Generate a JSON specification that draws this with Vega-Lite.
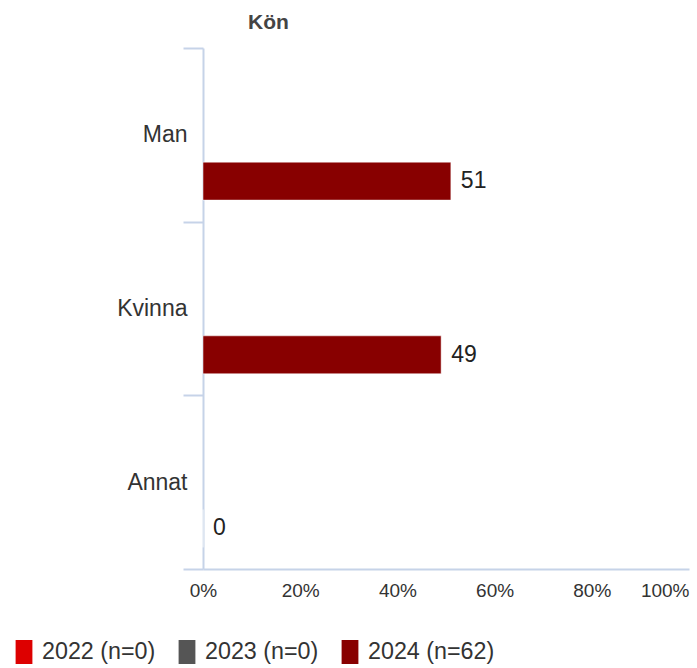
{
  "$schema": "https://vega.github.io/schema/vega-lite/v6.json",
  "autosize": {"type": "none"},
  "width": 486,
  "height": 521,
  "padding": {"left": 203, "top": 48, "right": 8, "bottom": 99},
  "background": "white",
  "config": {
    "font": "Liberation Sans",
    "view": {"stroke": null}
  },
  "title": {
    "text": "Kön",
    "anchor": "start",
    "frame": "group",
    "dx": 45,
    "offset": 4,
    "fontSize": 21,
    "fontWeight": "bold",
    "color": "#444444",
    "font": "Liberation Sans"
  },
  "data": {
    "values": [
      {"kon": "Man", "ar": "2024 (n=62)", "andel": 51},
      {"kon": "Kvinna", "ar": "2024 (n=62)", "andel": 49},
      {"kon": "Annat", "ar": "2024 (n=62)", "andel": 0}
    ]
  },
  "encoding": {
    "y": {
      "field": "kon",
      "type": "nominal",
      "sort": ["Man", "Kvinna", "Annat"],
      "scale": {"domain": ["Man", "Kvinna", "Annat"], "paddingInner": 0, "paddingOuter": 0},
      "axis": {
        "title": null,
        "tickBand": "extent",
        "tickSize": 20,
        "tickColor": "#c6d3e8",
        "tickWidth": 2,
        "domainColor": "#c6d3e8",
        "domainWidth": 2,
        "labelFontSize": 23,
        "labelColor": "#333333",
        "labelPadding": -4
      }
    },
    "yOffset": {
      "field": "ar",
      "type": "nominal",
      "scale": {"domain": ["2022 (n=0)", "2023 (n=0)", "2024 (n=62)"], "paddingInner": 0.18, "paddingOuter": 0.4655}
    },
    "x": {
      "field": "andel",
      "type": "quantitative",
      "scale": {"domain": [0, 100]},
      "axis": {
        "title": null,
        "values": [0, 20, 40, 60, 80, 100],
        "labelExpr": "datum.value + '%'",
        "grid": false,
        "ticks": false,
        "domainColor": "#c6d3e8",
        "domainWidth": 2,
        "labelFontSize": 19,
        "labelColor": "#333333",
        "labelPadding": 12,
        "labelAlign": {"condition": {"test": "datum.value == 100", "value": "right"}, "value": "center"}
      }
    }
  },
  "layer": [
    {
      "mark": {"type": "bar", "stroke": "white", "strokeWidth": 0.5},
      "encoding": {
        "color": {
          "field": "ar",
          "type": "nominal",
          "scale": {"domain": ["2022 (n=0)", "2023 (n=0)", "2024 (n=62)"], "range": ["#dd0000", "#555555", "#880000"]},
          "legend": {
            "title": null,
            "orient": "none",
            "direction": "horizontal",
            "legendX": -191,
            "legendY": 592,
            "symbolType": "M-0.7,-1H0.7V1H-0.7Z",
            "symbolSize": 576,
            "symbolStrokeWidth": 0,
            "symbolOpacity": 1,
            "labelFontSize": 23.3,
            "labelColor": "#333333",
            "labelOffset": 6,
            "columnPadding": 19
          }
        }
      }
    },
    {
      "mark": {"type": "text", "align": "left", "baseline": "middle", "dx": 10, "fontSize": 23, "color": "#222222"},
      "encoding": {
        "text": {"field": "andel", "type": "quantitative"}
      }
    }
  ]
}
